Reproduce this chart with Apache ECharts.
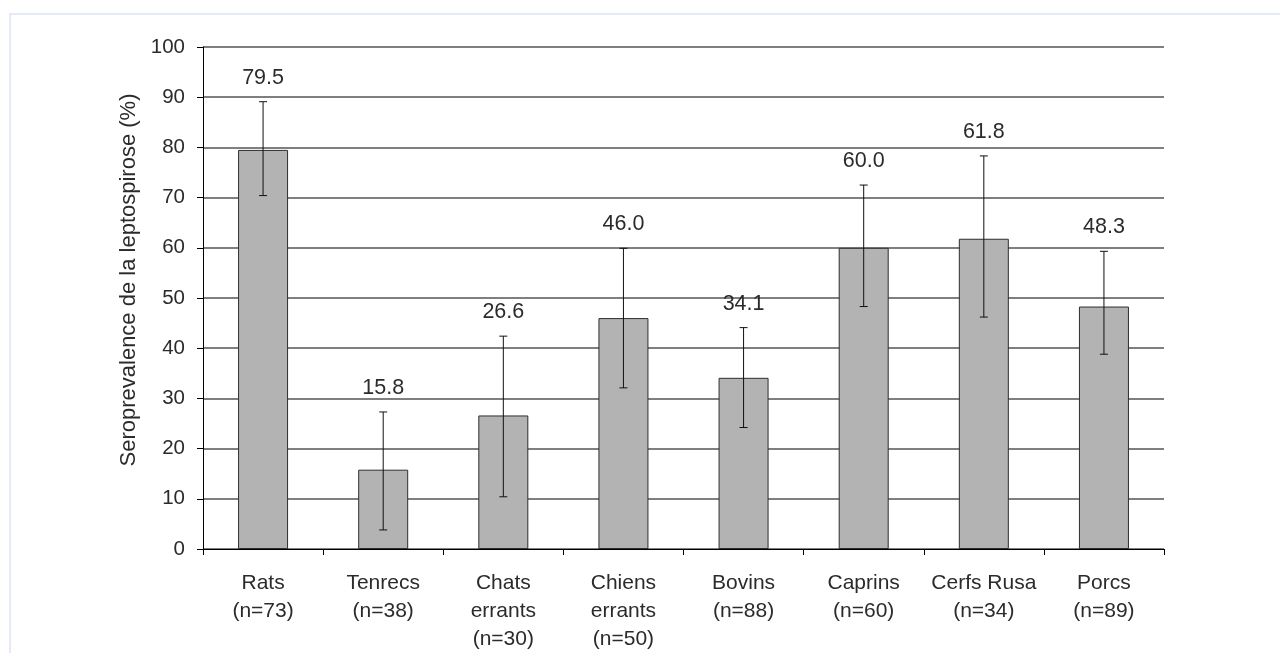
<!DOCTYPE html>
<html>
<head>
<meta charset="utf-8">
<script src="https://cdn.jsdelivr.net/npm/echarts@6/dist/echarts.min.js"></script>
<style>
  html, body { margin: 0; padding: 0; background: #fff; }
  #frame { position: absolute; left: 9px; top: 13px; right: 0; bottom: 0; border-left: 2px solid #e4eaf8; border-top: 2px solid #e4eaf8; }
  #chart { position: absolute; left: 0; top: 0; width: 1280px; height: 653px; }
</style>
</head>
<body>
<div id="frame"></div>
<div id="chart"></div>
<script>
// Seroprevalence of leptospirosis by host species, with confidence intervals
const categories = ['Rats\n(n=73)', 'Tenrecs\n(n=38)', 'Chats\nerrants\n(n=30)', 'Chiens\nerrants\n(n=50)',
                    'Bovins\n(n=88)', 'Caprins\n(n=60)', 'Cerfs Rusa\n(n=34)', 'Porcs\n(n=89)'];
const prevalence = [79.5, 15.8, 26.6, 46.0, 34.1, 60.0, 61.8, 48.3];
const ciLow  = [70.4, 3.8, 10.4, 32.1, 24.2, 48.3, 46.2, 38.8];
const ciHigh = [89.1, 27.3, 42.4, 59.9, 44.1, 72.5, 78.3, 59.3];
const yTicks = { min: 0, max: 100, step: 10 };

const textColor = '#2b2b2b';
const font = 'Liberation Sans, Arial, sans-serif';

const chart = echarts.init(document.getElementById('chart'), null, { renderer: 'canvas' });

chart.setOption({
  animation: false,
  backgroundColor: 'transparent',
  grid: { left: 203, right: 116, top: 47, bottom: 100 },
  xAxis: {
    type: 'category',
    data: categories,
    axisLine: { lineStyle: { color: '#000', width: 1 } },
    axisTick: { show: true, length: 6, lineStyle: { color: '#000' } },
    axisLabel: { color: textColor, fontFamily: font, fontSize: 21, lineHeight: 28, margin: 20, interval: 0 }
  },
  yAxis: {
    type: 'value',
    min: yTicks.min, max: yTicks.max, interval: yTicks.step,
    name: 'Seroprevalence de la leptospirose (%)',
    nameLocation: 'middle', nameRotate: 90, nameGap: 55,
    nameTextStyle: { color: textColor, fontFamily: font, fontSize: 22, padding: [0, 0, 0, 36] },
    axisLine: { show: true, lineStyle: { color: '#000', width: 1 } },
    axisTick: { show: true, length: 6, lineStyle: { color: '#000' } },
    axisLabel: { color: textColor, fontFamily: font, fontSize: 20.5, margin: 18 },
    splitLine: { show: true, lineStyle: { color: '#555', width: 1.5 } }
  },
  series: [
    {
      type: 'bar',
      data: prevalence,
      barWidth: 50,
      itemStyle: { color: '#b3b3b3', borderColor: '#2e2e2e', borderWidth: 1 },
      z: 2
    },
    {
      type: 'custom',
      data: categories.map((c, i) => [i, ciLow[i], ciHigh[i], prevalence[i]]),
      z: 3,
      renderItem: function (params, api) {
        const i = api.value(0);
        const lo = api.coord([i, api.value(1)]);
        const hi = api.coord([i, api.value(2)]);
        const cap = 4;
        const style = { stroke: '#111', lineWidth: 1 };
        return {
          type: 'group',
          children: [
            { type: 'line', shape: { x1: hi[0], y1: hi[1], x2: lo[0], y2: lo[1] }, style },
            { type: 'line', shape: { x1: hi[0] - cap, y1: hi[1], x2: hi[0] + cap, y2: hi[1] }, style },
            { type: 'line', shape: { x1: lo[0] - cap, y1: lo[1], x2: lo[0] + cap, y2: lo[1] }, style },
            {
              type: 'text',
              x: hi[0], y: hi[1] - 13,
              style: {
                text: api.value(3).toFixed(1),
                fill: textColor, font: '21.5px ' + font,
                align: 'center', verticalAlign: 'bottom'
              }
            }
          ]
        };
      }
    }
  ]
});
</script>
</body>
</html>
